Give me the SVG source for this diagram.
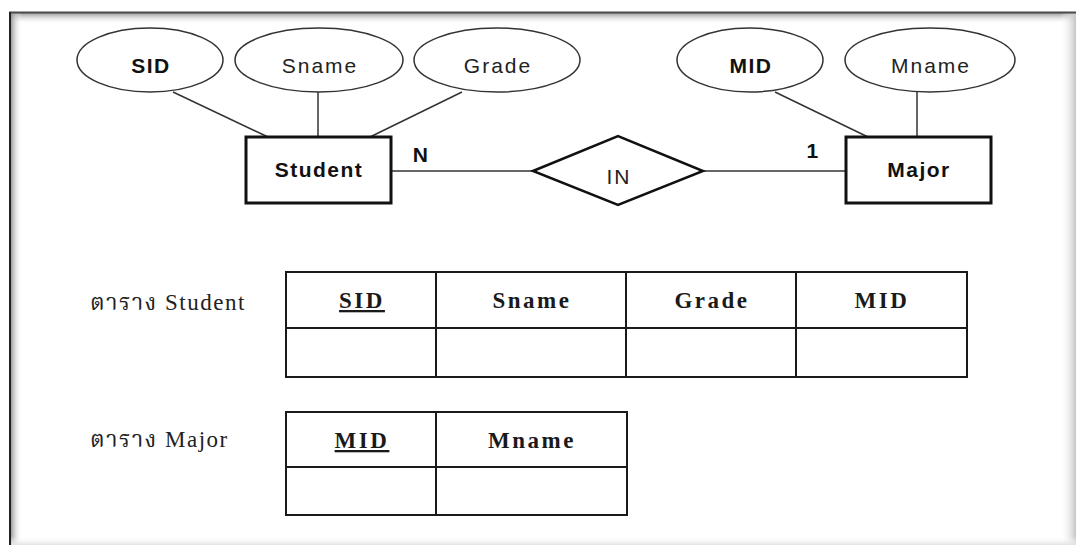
<svg xmlns="http://www.w3.org/2000/svg" width="1076" height="545" viewBox="0 0 1076 545">
  <defs>
    <linearGradient id="shadeTop" x1="0" y1="0" x2="0" y2="1">
      <stop offset="0" stop-color="#9a9a9a"/>
      <stop offset="1" stop-color="#ffffff" stop-opacity="0"/>
    </linearGradient>
    <linearGradient id="shadeLeft" x1="0" y1="0" x2="1" y2="0">
      <stop offset="0" stop-color="#8a8a8a"/>
      <stop offset="1" stop-color="#ffffff" stop-opacity="0"/>
    </linearGradient>
    <linearGradient id="shadeRight" x1="0" y1="0" x2="1" y2="0">
      <stop offset="0" stop-color="#ffffff" stop-opacity="0"/>
      <stop offset="1" stop-color="#c4c4c4"/>
    </linearGradient>
    <linearGradient id="shadeBottom" x1="0" y1="0" x2="0" y2="1">
      <stop offset="0" stop-color="#ffffff" stop-opacity="0"/>
      <stop offset="1" stop-color="#e4e4e4"/>
    </linearGradient>
  </defs>
  <style>
    .attr { fill: #ffffff; stroke: #333333; stroke-width: 1.5; }
    .entity { fill: #ffffff; stroke: #111111; stroke-width: 3; }
    .rel { fill: #ffffff; stroke: #111111; stroke-width: 2.5; }
    .link { stroke: #333333; stroke-width: 1.5; fill: none; }
    .er { font-family: "Liberation Sans", Arial, sans-serif; font-size: 21px; fill: #222222; text-anchor: middle; letter-spacing: 2px; }
    .erb { font-family: "Liberation Sans", Arial, sans-serif; font-size: 21px; font-weight: bold; fill: #111111; text-anchor: middle; letter-spacing: 1.5px; }
    .grid { stroke: #1a1a1a; stroke-width: 2; fill: none; }
    .th { font-family: "Liberation Serif", "Times New Roman", serif; font-size: 23px; font-weight: bold; fill: #1a1a1a; text-anchor: middle; letter-spacing: 2.5px; }
    .label { font-family: "Liberation Serif", "Noto Serif Thai", "Noto Sans Thai", "DejaVu Sans", serif; font-size: 23px; fill: #222222; letter-spacing: 1.5px; }
  </style>

  <!-- page background and framed edges -->
  <rect x="0" y="0" width="1076" height="545" fill="#ffffff"/>
  <rect x="10" y="13" width="1066" height="11" fill="url(#shadeTop)"/>
  <rect x="10" y="13" width="12" height="532" fill="url(#shadeLeft)"/>
  <rect x="1060" y="13" width="16" height="532" fill="url(#shadeRight)"/>
  <rect x="10" y="536" width="1066" height="9" fill="url(#shadeBottom)"/>
  <line x1="9" y1="12.5" x2="1076" y2="12.5" stroke="#4a4a4a" stroke-width="2"/>
  <line x1="10" y1="12" x2="10" y2="545" stroke="#222222" stroke-width="2"/>

  <!-- connectors -->
  <g id="connectors">
    <line class="link" x1="173" y1="92" x2="268" y2="137"/>
    <line class="link" x1="318" y1="92" x2="318" y2="137"/>
    <line class="link" x1="462" y1="92" x2="370" y2="137"/>
    <line class="link" x1="775" y1="92" x2="868" y2="137"/>
    <line class="link" x1="917" y1="92" x2="917" y2="137"/>
    <line class="link" x1="391" y1="171" x2="533" y2="171"/>
    <line class="link" x1="703" y1="171" x2="846" y2="171"/>
  </g>

  <!-- attributes -->
  <g id="attr-sid">
    <ellipse class="attr" cx="150" cy="60" rx="73" ry="32"/>
    <text class="erb" x="151" y="73">SID</text>
  </g>
  <g id="attr-sname">
    <ellipse class="attr" cx="319" cy="60" rx="84" ry="32"/>
    <text class="er" x="320" y="73">Sname</text>
  </g>
  <g id="attr-grade">
    <ellipse class="attr" cx="497" cy="60" rx="83" ry="32"/>
    <text class="er" x="498" y="73">Grade</text>
  </g>
  <g id="attr-mid">
    <ellipse class="attr" cx="750" cy="60" rx="73" ry="32"/>
    <text class="erb" x="751" y="73">MID</text>
  </g>
  <g id="attr-mname">
    <ellipse class="attr" cx="930" cy="60" rx="85" ry="32"/>
    <text class="er" x="931" y="73">Mname</text>
  </g>

  <!-- entities -->
  <g id="entity-student">
    <rect class="entity" x="246" y="137" width="145" height="66"/>
    <text class="erb" x="319" y="177">Student</text>
  </g>
  <g id="entity-major">
    <rect class="entity" x="846" y="137" width="145" height="66"/>
    <text class="erb" x="919" y="177">Major</text>
  </g>

  <!-- relationship -->
  <g id="rel-in">
    <polygon class="rel" points="533,171 618,136 703,171 618,205"/>
    <text class="er" x="619" y="184">IN</text>
  </g>

  <!-- cardinalities -->
  <g id="card-n">
    <text class="erb" x="421" y="162">N</text>
  </g>
  <g id="card-1">
    <text class="erb" x="813" y="158">1</text>
  </g>

  <!-- Student table -->
  <g id="table-student">
    <text class="label" x="90" y="310">ตาราง Student</text>
    <rect class="grid" x="286" y="272" width="681" height="105"/>
    <line class="grid" x1="286" y1="328" x2="967" y2="328"/>
    <line class="grid" x1="436" y1="272" x2="436" y2="377"/>
    <line class="grid" x1="626" y1="272" x2="626" y2="377"/>
    <line class="grid" x1="796" y1="272" x2="796" y2="377"/>
    <text class="th" x="362" y="308" text-decoration="underline">SID</text>
    <text class="th" x="532" y="308">Sname</text>
    <text class="th" x="712" y="308">Grade</text>
    <text class="th" x="882" y="308">MID</text>
  </g>

  <!-- Major table -->
  <g id="table-major">
    <text class="label" x="90" y="447">ตาราง Major</text>
    <rect class="grid" x="286" y="412" width="341" height="103"/>
    <line class="grid" x1="286" y1="467" x2="627" y2="467"/>
    <line class="grid" x1="436" y1="412" x2="436" y2="515"/>
    <text class="th" x="362" y="448" text-decoration="underline">MID</text>
    <text class="th" x="532" y="448">Mname</text>
  </g>
</svg>
